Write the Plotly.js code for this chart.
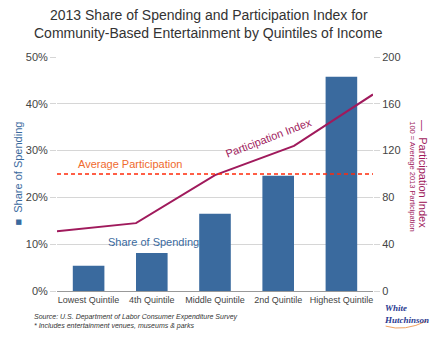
<!DOCTYPE html>
<html><head><meta charset="utf-8">
<script src="https://cdn.plot.ly/plotly-3.0.1.min.js"></script>
<style>html,body{margin:0;padding:0;background:#fff;}#chart{width:440px;height:340px;}</style>
</head><body><div id="chart"></div>
<script>
var categories = ["Lowest Quintile", "4th Quintile", "Middle Quintile", "2nd Quintile", "Highest Quintile"];
var shareOfSpending = [5.4, 8.1, 16.5, 24.6, 45.8];
var participationIndex = [51, 58, 99, 124, 168];
var averageParticipation = 100;
var leftTicks = [0, 10, 20, 30, 40, 50];
var rightTicks = [0, 40, 80, 120, 160, 200];

var FONT = "Liberation Sans, Arial, Helvetica, sans-serif";
var BLUE = "#3a6a9e", PURPLE = "#a01a5c", ORANGE = "#ef6a2e", RED = "#ff2a0a";

var traces = [
  {type: "bar", x: categories, y: shareOfSpending, marker: {color: BLUE}, xaxis: "x", yaxis: "y", hoverinfo: "none"},
  {type: "scatter", mode: "lines", x: categories, y: participationIndex, line: {color: PURPLE, width: 2}, xaxis: "x2", yaxis: "y2", hoverinfo: "none"}
];

var layout = {
  width: 440, height: 340,
  margin: {l: 57, r: 67, t: 57, b: 49},
  paper_bgcolor: "#fff", plot_bgcolor: "#fff",
  showlegend: false,
  bargap: 0.5,
  font: {family: FONT, color: "#444"},
  xaxis: {type: "category", range: [-0.5, 4.5], showgrid: false, zeroline: false, showline: true, linecolor: "#999", linewidth: 1,
          ticks: "", tickfont: {size: 9, color: "#444"}, fixedrange: true},
  xaxis2: {type: "category", overlaying: "x", range: [0, 4], visible: false, fixedrange: true},
  yaxis: {range: [0, 50], tickvals: leftTicks, ticktext: leftTicks.map(function(v){return v + "%";}),
          showgrid: true, gridcolor: "#d6d6d6", zeroline: false, showline: false, ticks: "outside", ticklen: 6, tickcolor: "#d6d6d6",
          tickfont: {size: 11, color: "#444"}, fixedrange: true},
  yaxis2: {range: [0, 200], overlaying: "y", side: "right", tickvals: rightTicks, showgrid: false, zeroline: false,
           ticks: "outside", ticklen: 6, tickcolor: "#d6d6d6", tickfont: {size: 11, color: "#444"}, fixedrange: true},
  shapes: [
    {type: "line", xref: "paper", x0: 0, x1: 1, yref: "y2", y0: averageParticipation, y1: averageParticipation,
     line: {color: RED, width: 1.5, dash: "4px,3px"}},
    {type: "path", xref: "paper", yref: "paper", path: "M 1.04 -0.15 Q 1.10 -0.175 1.17 -0.128", line: {color: "#f0a060", width: 1}}
  ],
  annotations: [
    {text: "2013 Share of Spending and Participation Index for", xref: "paper", yref: "paper", x: 0.48, y: 1.179,
     xanchor: "center", yanchor: "middle", showarrow: false, font: {size: 14, color: "#333"}},
    {text: "Community-Based Entertainment by Quintiles of Income", xref: "paper", yref: "paper", x: 0.48, y: 1.103,
     xanchor: "center", yanchor: "middle", showarrow: false, font: {size: 14, color: "#333"}},
    {text: "Average Participation", xref: "paper", yref: "y2", x: 0.06, y: averageParticipation, xanchor: "left", yanchor: "bottom",
     yshift: 2, showarrow: false, font: {size: 11, color: ORANGE}},
    {text: "Share of Spending", xref: "paper", yref: "y", x: 0.155, y: 10.5, xanchor: "left", yanchor: "middle",
     showarrow: false, font: {size: 11, color: BLUE}},
    {text: "Participation Index", xref: "paper", yref: "y2", x: 0.668, y: 131, xanchor: "center", yanchor: "middle",
     textangle: -21, showarrow: false, font: {size: 11, color: PURPLE}},
    {text: "■  Share of Spending", xref: "paper", yref: "paper", x: -0.125, y: 0.50, xanchor: "center", yanchor: "middle",
     textangle: -90, showarrow: false, font: {size: 11, color: BLUE}},
    {text: "—  Participation Index", xref: "paper", yref: "paper", x: 1.158, y: 0.50, xanchor: "center", yanchor: "middle",
     textangle: 90, showarrow: false, font: {size: 11, color: PURPLE}},
    {text: "100 = Average 2013 Participation", xref: "paper", yref: "paper", x: 1.127, y: 0.49, xanchor: "center", yanchor: "middle",
     textangle: 90, showarrow: false, font: {size: 7.5, color: PURPLE}},
    {text: "<i>Source: U.S. Department of Labor Consumer Expenditure Survey</i>", xref: "paper", yref: "paper",
     x: -0.08, y: -0.112, xanchor: "left", yanchor: "middle", showarrow: false, font: {size: 7, color: "#333"}},
    {text: "<i>* Includes entertainment venues, museums &amp; parks</i>", xref: "paper", yref: "paper",
     x: -0.08, y: -0.15, xanchor: "left", yanchor: "middle", showarrow: false, font: {size: 7, color: "#333"}},
    {text: "<i><b>White<br>Hutchinson</b></i>", xref: "paper", yref: "paper", x: 1.105, y: -0.1, xanchor: "center", yanchor: "middle",
     showarrow: false, align: "left", font: {family: "Liberation Serif, Times New Roman, serif", size: 9, color: "#2a3990"}}
  ]
};

Plotly.newPlot("chart", traces, layout, {displayModeBar: false, staticPlot: true});
</script></body></html>
